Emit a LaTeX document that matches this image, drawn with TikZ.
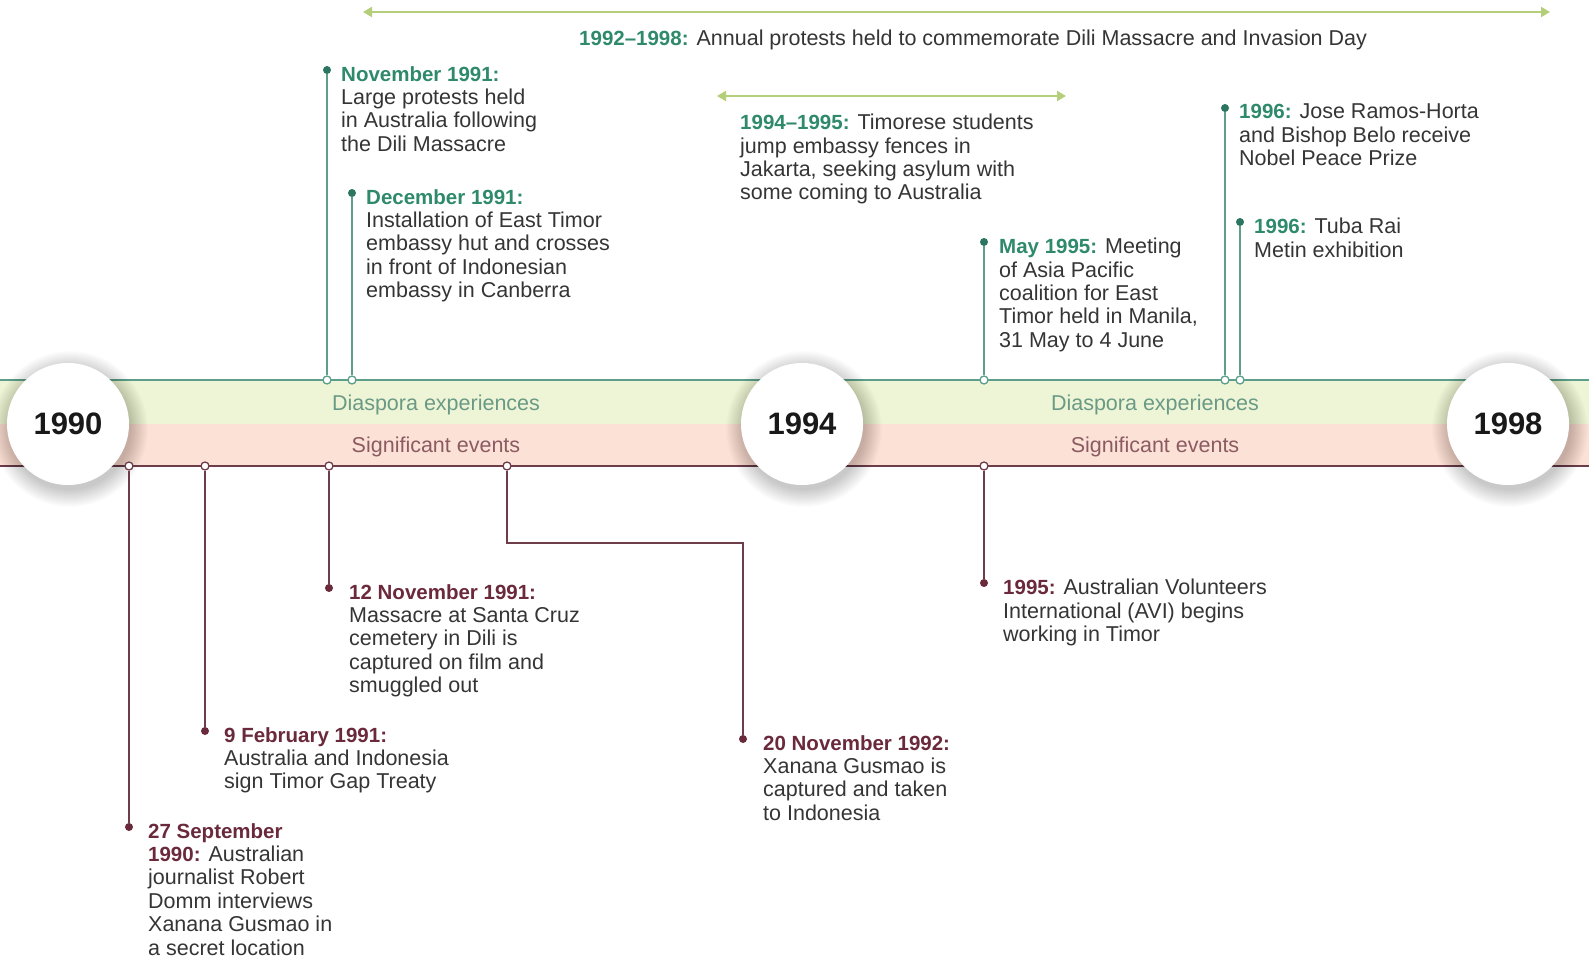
\documentclass[tikz,border=0pt]{standalone}
\usepackage{fontspec}
\setmainfont{Liberation Sans}
\usetikzlibrary{arrows.meta}

\definecolor{bodygray}{HTML}{353535}
\definecolor{dategreen}{HTML}{2E8A6B}
\definecolor{stemgreen}{HTML}{5E9F8B}
\definecolor{dotgreen}{HTML}{2C7560}
\definecolor{datered}{HTML}{6A2A3C}
\definecolor{stemred}{HTML}{6E3D4A}
\definecolor{bandgreen}{HTML}{EEF5D6}
\definecolor{bandred}{HTML}{FCE2D6}
\definecolor{labelgreen}{HTML}{6A9A86}
\definecolor{labelred}{HTML}{8C5A62}
\definecolor{spanarrow}{HTML}{B4CE7A}

\newcommand{\greendate}[1]{{\color{dategreen}\fontsize{20.5}{23.4}\selectfont\bfseries #1}}
\newcommand{\reddate}[1]{{\color{datered}\fontsize{20.5}{23.4}\selectfont\bfseries #1}}

\tikzset{
  body/.style={anchor=north west, inner sep=0pt, align=left, text=bodygray,
    font=\fontsize{21.5}{23.4}\selectfont},
  ringg/.style={circle, draw=stemgreen, fill=white, line width=1.3pt, inner sep=0pt, minimum size=8pt},
  ringr/.style={circle, draw=stemred, fill=white, line width=1.3pt, inner sep=0pt, minimum size=8pt},
  pinning/.style={circle, fill=dotgreen, inner sep=0pt, minimum size=8pt},
  pinred/.style={circle, fill=datered, inner sep=0pt, minimum size=8pt},
  stemg/.style={draw=stemgreen, line width=2pt},
  stemr/.style={draw=stemred, line width=2pt},
  twoway/.style={draw=spanarrow, line width=2pt,
    {Triangle[width=10pt,length=9pt]}-{Triangle[width=10pt,length=9pt]}},
  yearball/.style={circle, fill=white, inner sep=0pt, minimum size=122pt,
    font=\fontsize{31}{31}\selectfont\bfseries, text=black!90},
  bandlabel/.style={anchor=base, inner sep=0pt, font=\fontsize{21.5}{24}\selectfont},
}

\begin{document}
\begin{tikzpicture}[x=1pt, y=-1pt]
\useasboundingbox (0,0) rectangle (1589,957);
\fill[white] (0,0) rectangle (1589,957);

% timeline band
\fill[bandgreen] (0,380) rectangle (1589,424);
\fill[bandred] (0,424) rectangle (1589,466);
\draw[stemgreen, line width=2pt] (0,380) -- (1589,380);
\draw[stemred, line width=2.4pt] (0,466) -- (1589,466);

\node[bandlabel, text=labelgreen] (dia1) at (436,410) {Diaspora experiences};
\node[bandlabel, text=labelred] (sig1) at (436,452) {Significant events};
\node[bandlabel, text=labelgreen] (dia2) at (1155,410) {Diaspora experiences};
\node[bandlabel, text=labelred] (sig2) at (1155,452) {Significant events};

% year markers with a soft shadow
\foreach \cx in {68,802,1508}{
  \foreach \r in {1,...,18}{
    \fill[black, opacity=0.012] (\cx+2,429) circle ({60pt+\r pt});
  }
}
\node[yearball] (y1990) at (68,424) {1990};
\node[yearball] (y1994) at (802,424) {1994};
\node[yearball] (y1998) at (1508,424) {1998};

% spanning periods
\coordinate (pa) at (363,12);
\coordinate (pb) at (1550,12);
\draw[twoway] (pa) -- (pb);
\node[anchor=base west, inner sep=0pt, text=bodygray, font=\fontsize{21.5}{23.4}\selectfont]
  (protests) at (579,46) {\greendate{1992--1998:} Annual protests held to commemorate Dili Massacre and Invasion Day};

\coordinate (sa) at (717,96);
\coordinate (sb) at (1066,96);
\draw[twoway] (sa) -- (sb);
\node[body] (students) at (740,114)
  {\greendate{1994--1995:} Timorese students\\jump embassy fences in\\Jakarta, seeking asylum with\\some coming to Australia};

% diaspora experiences (above the band)
\node[ringg] (rg1) at (327,380) {};
\node[pinning] (pg1) at (327,70) {};
\draw[stemg] (rg1) -- (pg1);
\node[body] (nov91) at (341,66) {\greendate{November 1991:}\\Large protests held\\in Australia following\\the Dili Massacre};

\node[ringg] (rg2) at (352,380) {};
\node[pinning] (pg2) at (352,193) {};
\draw[stemg] (rg2) -- (pg2);
\node[body] (dec91) at (366,189) {\greendate{December 1991:}\\Installation of East Timor\\embassy hut and crosses\\in front of Indonesian\\embassy in Canberra};

\node[ringg] (rg3) at (984,380) {};
\node[pinning] (pg3) at (984,242) {};
\draw[stemg] (rg3) -- (pg3);
\node[body] (may95) at (999,238) {\greendate{May 1995:} Meeting\\of Asia Pacific\\coalition for East\\Timor held in Manila,\\31 May to 4 June};

\node[ringg] (rg4) at (1225,380) {};
\node[pinning] (pg4) at (1225,108) {};
\draw[stemg] (rg4) -- (pg4);
\node[body] (nobel) at (1239,104) {\greendate{1996:} Jose Ramos-Horta\\and Bishop Belo receive\\Nobel Peace Prize};

\node[ringg] (rg5) at (1240,380) {};
\node[pinning] (pg5) at (1240,222) {};
\draw[stemg] (rg5) -- (pg5);
\node[body] (tuba) at (1254,218) {\greendate{1996:} Tuba Rai\\Metin exhibition};

% significant events (below the band)
\node[ringr] (rr1) at (129,466) {};
\node[pinred] (pr1) at (129,827) {};
\draw[stemr] (rr1) -- (pr1);
\node[body] (sep90) at (148,823) {\reddate{27 September}\\\reddate{1990:} Australian\\journalist Robert\\Domm interviews\\Xanana Gusmao in\\a secret location};

\node[ringr] (rr2) at (205,466) {};
\node[pinred] (pr2) at (205,731) {};
\draw[stemr] (rr2) -- (pr2);
\node[body] (feb91) at (224,727) {\reddate{9 February 1991:}\\Australia and Indonesia\\sign Timor Gap Treaty};

\node[ringr] (rr3) at (329,466) {};
\node[pinred] (pr3) at (329,588) {};
\draw[stemr] (rr3) -- (pr3);
\node[body] (nov91b) at (349,584) {\reddate{12 November 1991:}\\Massacre at Santa Cruz\\cemetery in Dili is\\captured on film and\\smuggled out};

\node[ringr] (rr4) at (507,466) {};
\coordinate (bend4) at (743,543);
\node[pinred] (pr4) at (743,739) {};
\draw[stemr] (rr4) |- (bend4) -- (pr4);
\node[body] (nov92) at (763,735) {\reddate{20 November 1992:}\\Xanana Gusmao is\\captured and taken\\to Indonesia};

\node[ringr] (rr5) at (984,466) {};
\node[pinred] (pr5) at (984,583) {};
\draw[stemr] (rr5) -- (pr5);
\node[body] (avi95) at (1003,579) {\reddate{1995:} Australian Volunteers\\International (AVI) begins\\working in Timor};
\end{tikzpicture}
\end{document}
